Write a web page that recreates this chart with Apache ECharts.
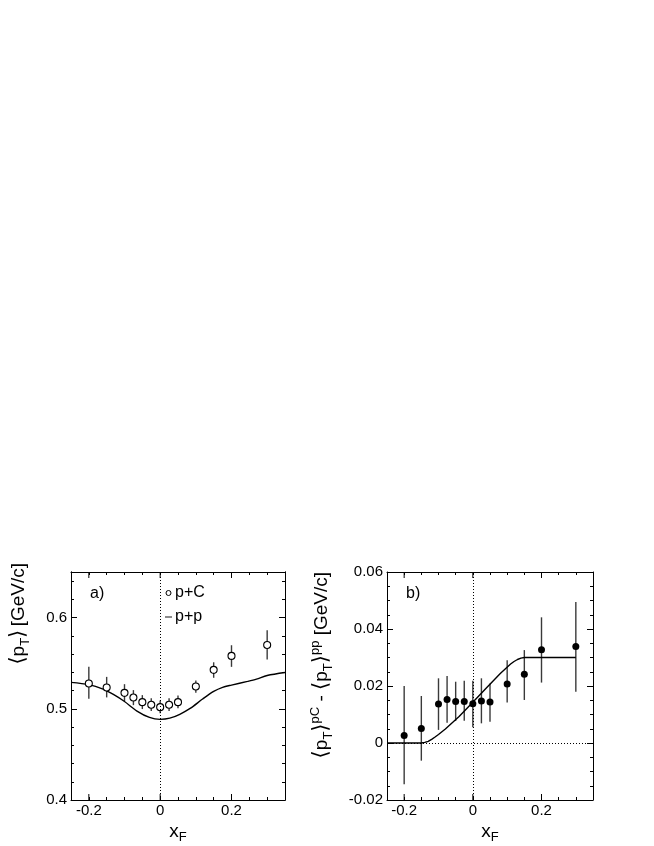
<!DOCTYPE html>
<html>
<head>
<meta charset="utf-8">
<script src="https://cdn.jsdelivr.net/npm/echarts@6/dist/echarts.min.js"></script>
<style>
html, body { margin: 0; padding: 0; background: #fff; }
#chart { width: 654px; height: 846px; }
</style>
</head>
<body>
<div id="chart"></div>
<script>
// x_F bins, shared by both panels
const xF = [-0.2, -0.15, -0.1, -0.075, -0.05, -0.025, 0, 0.025, 0.05, 0.1, 0.15, 0.2, 0.3];

// a) <pT> for p+C, with error bar ends
const ptC     = [0.5278, 0.5234, 0.5175, 0.5124, 0.5073, 0.5044, 0.5018, 0.5044, 0.5073, 0.5245, 0.5427, 0.558, 0.570];
const ptCLow  = [0.511, 0.5125, 0.5085, 0.504, 0.4997, 0.4975, 0.495, 0.4975, 0.5005, 0.5175, 0.534, 0.546, 0.554];
const ptCHigh = [0.546, 0.535, 0.527, 0.5205, 0.515, 0.5115, 0.509, 0.5115, 0.5145, 0.531, 0.551, 0.5697, 0.586];

// a) p+p curve
const ppX = [-0.25, -0.2, -0.16, -0.13, -0.1, -0.065, -0.03, 0, 0.027, 0.055, 0.084, 0.12, 0.15, 0.175, 0.2, 0.245, 0.27, 0.3, 0.35];
const ppY = [0.529, 0.5265, 0.5215, 0.5155, 0.508, 0.4975, 0.4905, 0.4884, 0.4897, 0.494, 0.5004, 0.511, 0.519, 0.5235, 0.526, 0.530, 0.5325, 0.5365, 0.5398];

// b) <pT>pC - <pT>pp, with error bar ends
const dPt     = [0.0026, 0.0051, 0.0137, 0.0153, 0.0146, 0.0146, 0.0138, 0.0147, 0.0144, 0.0207, 0.0241, 0.0327, 0.0339];
const dPtLow  = [-0.0145, -0.0062, 0.0046, 0.0071, 0.0077, 0.0078, 0.0055, 0.0069, 0.0075, 0.0142, 0.0151, 0.0212, 0.018];
const dPtHigh = [0.020, 0.0165, 0.0227, 0.0235, 0.0215, 0.0218, 0.0218, 0.0227, 0.0209, 0.029, 0.0326, 0.0441, 0.0495];

// b) model curve
const modelX = [-0.25, -0.15, -0.14, -0.13, -0.12, -0.11, -0.1, -0.08, -0.04, 0, 0.04, 0.08, 0.11, 0.12, 0.13, 0.14, 0.15, 0.3];
const modelY = [0, 0, 0.0002, 0.0006, 0.0013, 0.0021, 0.003, 0.0049, 0.0093, 0.0143, 0.0194, 0.0244, 0.0277, 0.0286, 0.0293, 0.0298, 0.030, 0.030];

// labelled ticks
const xTickLabels = [-0.2, 0, 0.2];
const yTickLabelsA = [0.4, 0.5, 0.6];

const font = 'Liberation Sans, Arial, Helvetica, sans-serif';
const near = (list, v) => list.some(t => Math.abs(t - v) < 1e-9);

function xAxis(grid, pos, withLabels) {
    return {
        type: 'value', gridIndex: grid, position: pos,
        min: -0.25, max: 0.35, interval: 0.05,
        axisLine: { onZero: false, lineStyle: { color: '#000', width: 1 } },
        axisTick: { inside: true, length: 3, lineStyle: { color: '#000' } },
        splitLine: { show: false },
        axisLabel: {
            show: withLabels, color: '#000', fontSize: 15, fontFamily: font, margin: 3,
            formatter: v => near(xTickLabels, v) ? String(+v.toFixed(2)) : ''
        },
        name: withLabels ? '{x|x}{s|F}' : '',
        nameLocation: 'middle', nameGap: 20,
        nameTextStyle: {
            color: '#000', fontFamily: font,
            rich: {
                x: { fontSize: 19, lineHeight: 24, fontFamily: font, color: '#000' },
                s: { fontSize: 13, lineHeight: 14, verticalAlign: 'bottom', fontFamily: font, color: '#000' }
            }
        }
    };
}

function yAxis(grid, pos, min, max, interval, tickLen, withLabels, extra) {
    return Object.assign({
        type: 'value', gridIndex: grid, position: pos,
        min: min, max: max, interval: interval,
        axisLine: { onZero: false, lineStyle: { color: '#000', width: 1 } },
        axisTick: { inside: true, length: tickLen, lineStyle: { color: '#000' } },
        splitLine: { show: false },
        axisLabel: { show: withLabels, color: '#000', fontSize: 15, fontFamily: font, margin: 4 }
    }, extra || {});
}

function errorBar(params, api) {
    const x = api.value(0);
    const lo = api.coord([x, api.value(1)]);
    const hi = api.coord([x, api.value(2)]);
    return {
        type: 'line',
        shape: { x1: lo[0], y1: lo[1], x2: hi[0], y2: hi[1] },
        style: { stroke: '#3a3a3a', lineWidth: 1.4 }
    };
}

// longer ticks at the labelled x values, bottom and top of a panel
function majorTicks(yMin, yMax, len) {
    return function (params, api) {
        const x = api.value(0);
        const b = api.coord([x, yMin]);
        const t = api.coord([x, yMax]);
        return {
            type: 'group',
            children: [
                { type: 'line', shape: { x1: b[0], y1: b[1], x2: b[0], y2: b[1] - len }, style: { stroke: '#000', lineWidth: 1 } },
                { type: 'line', shape: { x1: t[0], y1: t[1], x2: t[0], y2: t[1] + len }, style: { stroke: '#000', lineWidth: 1 } }
            ]
        };
    };
}

const dotted = { color: '#000', width: 1, type: [1, 2] };

const titleRich = {
    n: { fontSize: 19, lineHeight: 26, fontFamily: font, fill: '#000' },
    b: { fontSize: 21, lineHeight: 26, fontFamily: 'DejaVu Sans, ' + font, fill: '#000' },
    s: { fontSize: 13, lineHeight: 14, verticalAlign: 'bottom', fontFamily: font, fill: '#000' },
    u: { fontSize: 13, lineHeight: 14, verticalAlign: 'top', fontFamily: font, fill: '#000' }
};

const chart = echarts.init(document.getElementById('chart'));
chart.setOption({
    animation: false,
    backgroundColor: '#fff',
    grid: [
        { left: 71, top: 572, width: 214, height: 228 },
        { left: 387, top: 572, width: 206, height: 228 }
    ],
    xAxis: [
        xAxis(0, 'bottom', true),
        xAxis(0, 'top', false),
        xAxis(1, 'bottom', true),
        xAxis(1, 'top', false)
    ],
    yAxis: [
        yAxis(0, 'left', 0.4, 0.65, 0.1, 6, true, {
            axisLabel: {
                color: '#000', fontSize: 15, fontFamily: font, margin: 4,
                formatter: v => near(yTickLabelsA, v) ? String(+v.toFixed(2)) : ''
            }
        }),
        yAxis(0, 'left', 0.4, 0.65, 0.02, 3, false),
        yAxis(0, 'right', 0.4, 0.65, 0.1, 6, false),
        yAxis(0, 'right', 0.4, 0.65, 0.02, 3, false),
        yAxis(1, 'left', -0.02, 0.06, 0.02, 6, true, { minorTick: { show: true, splitNumber: 4, length: 3, lineStyle: { color: '#000' } } }),
        yAxis(1, 'right', -0.02, 0.06, 0.02, 6, false, { minorTick: { show: true, splitNumber: 4, length: 3, lineStyle: { color: '#000' } } })
    ],
    legend: {
        data: [
            { name: 'p+C', icon: 'circle', itemStyle: { color: '#fff', borderColor: '#000', borderWidth: 1 } },
            { name: 'p+p', icon: 'path://M0,0L10,0L10,1.3L0,1.3Z', itemStyle: { color: '#000', borderWidth: 0 } }
        ],
        orient: 'vertical', left: 165, top: 585, padding: 0,
        itemWidth: 7, itemHeight: 5, itemGap: 8,
        selectedMode: false,
        textStyle: { fontSize: 16, color: '#000', fontFamily: font, padding: [0, 0, 0, -2] }
    },
    graphic: [
        {
            type: 'text', x: 19, y: 563, rotation: Math.PI / 2,
            style: { text: '{b|⟨}{n|p}{s|T}{b|⟩} {n|[GeV/c]}', align: 'right', verticalAlign: 'middle', rich: titleRich }
        },
        {
            type: 'text', x: 322, y: 572, rotation: Math.PI / 2,
            style: {
                text: '{b|⟨}{n|p}{s|T}{b|⟩}{u|pC}{n| - }{b|⟨}{n|p}{s|T}{b|⟩}{u|pp}{n| [GeV/c]}',
                align: 'right', verticalAlign: 'middle', rich: titleRich
            }
        },
        { type: 'text', x: 90, y: 594, style: { text: 'a)', fontSize: 16, fontFamily: font, fill: '#000', verticalAlign: 'middle' } },
        { type: 'text', x: 406, y: 594, style: { text: 'b)', fontSize: 16, fontFamily: font, fill: '#000', verticalAlign: 'middle' } }
    ],
    series: [
        // panel a
        {
            name: 'p+C err', type: 'custom', xAxisIndex: 0, yAxisIndex: 0, z: 2,
            renderItem: errorBar, encode: { x: 0, y: [1, 2] },
            data: xF.map((x, i) => [x, ptCLow[i], ptCHigh[i]])
        },
        {
            name: 'p+p', type: 'line', xAxisIndex: 0, yAxisIndex: 0, z: 3,
            symbol: 'none', smooth: 0.3,
            lineStyle: { color: '#000', width: 1.4 }, itemStyle: { color: '#000' },
            data: ppX.map((x, i) => [x, ppY[i]]),
            markLine: { silent: true, symbol: 'none', label: { show: false }, lineStyle: dotted, data: [{ xAxis: 0 }] }
        },
        {
            name: 'p+C', type: 'scatter', xAxisIndex: 0, yAxisIndex: 0, z: 4,
            symbol: 'circle', symbolSize: 7,
            itemStyle: { color: '#fff', borderColor: '#000', borderWidth: 1.1, opacity: 1 },
            data: xF.map((x, i) => [x, ptC[i]])
        },
        {
            name: 'ticks a', type: 'custom', xAxisIndex: 0, yAxisIndex: 0, z: 5,
            renderItem: majorTicks(0.4, 0.65, 6),
            data: xTickLabels.map(x => [x, 0.4])
        },
        // panel b
        {
            name: 'diff err', type: 'custom', xAxisIndex: 2, yAxisIndex: 4, z: 2,
            renderItem: errorBar, encode: { x: 0, y: [1, 2] },
            data: xF.map((x, i) => [x, dPtLow[i], dPtHigh[i]])
        },
        {
            name: 'model', type: 'line', xAxisIndex: 2, yAxisIndex: 4, z: 3,
            symbol: 'none', smooth: false,
            lineStyle: { color: '#000', width: 1.4 },
            data: modelX.map((x, i) => [x, modelY[i]]),
            markLine: { silent: true, symbol: 'none', label: { show: false }, lineStyle: dotted, data: [{ xAxis: 0 }, { yAxis: 0 }] }
        },
        {
            name: 'diff', type: 'scatter', xAxisIndex: 2, yAxisIndex: 4, z: 4,
            symbol: 'circle', symbolSize: 7,
            itemStyle: { color: '#000', opacity: 1 },
            data: xF.map((x, i) => [x, dPt[i]])
        },
        {
            name: 'ticks b', type: 'custom', xAxisIndex: 2, yAxisIndex: 4, z: 5,
            renderItem: majorTicks(-0.02, 0.06, 6),
            data: xTickLabels.map(x => [x, -0.02])
        }
    ]
});
</script>
</body>
</html>
